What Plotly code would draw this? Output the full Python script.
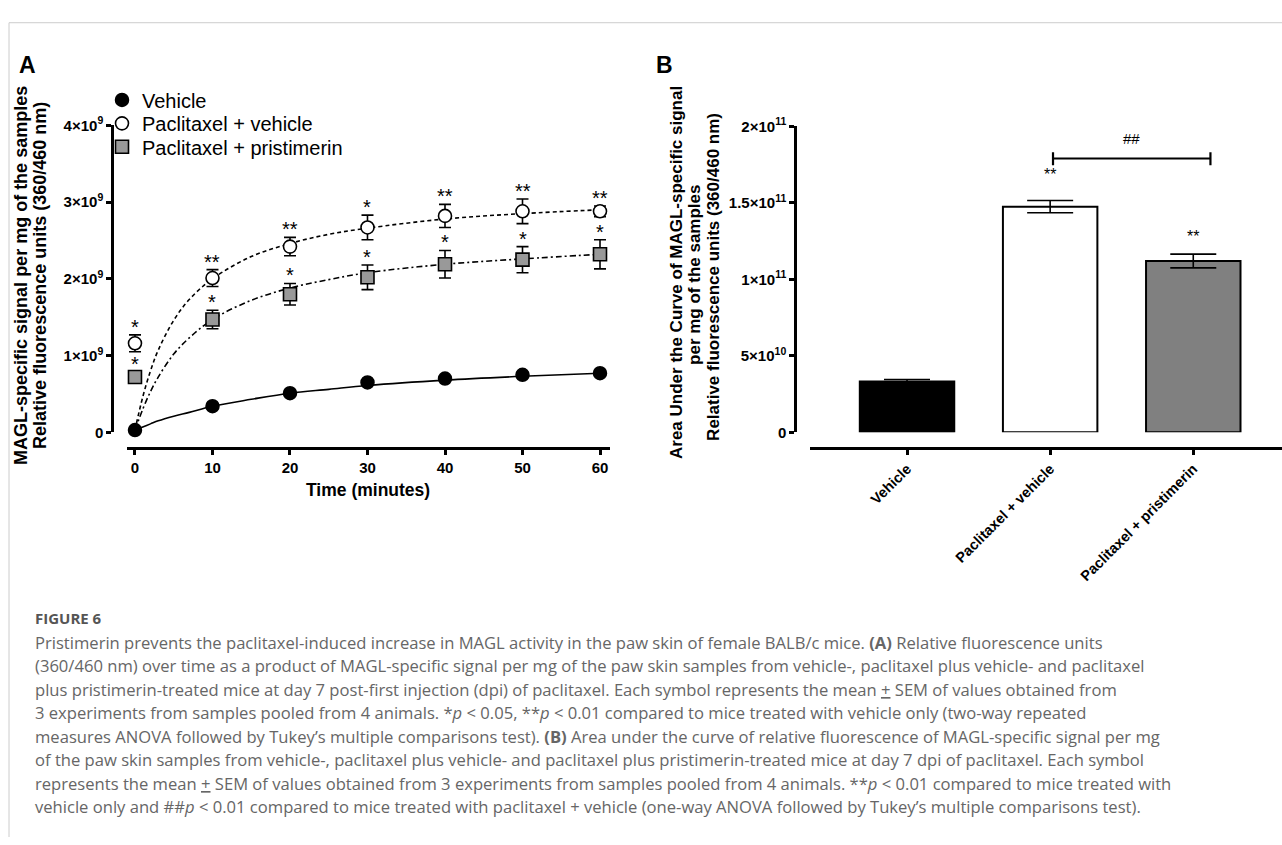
import plotly.graph_objects as go

W, H = 1282, 845

# ---------------- Panel A data ----------------
time_min = [0, 10, 20, 30, 40, 50, 60]
vehicle_mean = [0.03e9, 0.34e9, 0.51e9, 0.65e9, 0.70e9, 0.75e9, 0.77e9]
vehicle_sem = [0.02e9, 0.03e9, 0.03e9, 0.03e9, 0.03e9, 0.03e9, 0.03e9]
pv_mean = [1.16e9, 2.01e9, 2.42e9, 2.67e9, 2.82e9, 2.88e9, 2.88e9]
pv_sem = [0.11e9, 0.11e9, 0.12e9, 0.16e9, 0.15e9, 0.16e9, 0.07e9]
pp_mean = [0.72e9, 1.47e9, 1.80e9, 2.02e9, 2.19e9, 2.25e9, 2.32e9]
pp_sem = [0.07e9, 0.12e9, 0.14e9, 0.16e9, 0.18e9, 0.17e9, 0.19e9]
pv_stars = ["*", "**", "**", "*", "**", "**", "**"]
pp_stars = ["*", "*", "*", "*", "*", "*", "*"]

# fitted curves
fit_t = [0, 1, 2, 3, 5, 7, 10, 15, 20, 25, 30, 40, 50, 60]
vehicle_fit = [0.03e9, 0.07e9, 0.11e9, 0.15e9, 0.21e9, 0.26e9, 0.34e9, 0.43e9, 0.51e9, 0.56e9, 0.61e9, 0.68e9, 0.73e9, 0.77e9]
pv_fit = [0.03e9, 0.46e9, 0.80e9, 1.07e9, 1.46e9, 1.73e9, 2.00e9, 2.29e9, 2.46e9, 2.58e9, 2.66e9, 2.78e9, 2.85e9, 2.90e9]
pp_fit = [0.03e9, 0.30e9, 0.53e9, 0.72e9, 1.02e9, 1.23e9, 1.47e9, 1.72e9, 1.88e9, 1.99e9, 2.08e9, 2.19e9, 2.26e9, 2.32e9]

a_xticks = [0, 10, 20, 30, 40, 50, 60]
a_yticks = [0, 1e9, 2e9, 3e9, 4e9]
a_yticklabels = ["0", "1×10<sup>9</sup>", "2×10<sup>9</sup>", "3×10<sup>9</sup>", "4×10<sup>9</sup>"]

# ---------------- Panel B data ----------------
groups = ["Vehicle", "Paclitaxel + vehicle", "Paclitaxel + pristimerin"]
auc_mean = [3.32e10, 1.475e11, 1.12e11]
auc_sem = [0.13e10, 0.04e11, 0.045e11]
auc_stars = ["", "**", "**"]
bar_colors = ["#000000", "#ffffff", "#808080"]
b_yticks = [0, 5e10, 1e11, 1.5e11, 2e11]
b_yticklabels = ["0", "5×10<sup>10</sup>", "1×10<sup>11</sup>", "1.5×10<sup>11</sup>", "2×10<sup>11</sup>"]
bracket_y = 1.79e11

caption_lines = [
    "Pristimerin prevents the paclitaxel-induced increase in MAGL activity in the paw skin of female BALB/c mice. <b>(A)</b> Relative fluorescence units",
    "(360/460 nm) over time as a product of MAGL-specific signal per mg of the paw skin samples from vehicle-, paclitaxel plus vehicle- and paclitaxel",
    "plus pristimerin-treated mice at day 7 post-first injection (dpi) of paclitaxel. Each symbol represents the mean <u>+</u> SEM of values obtained from",
    "3 experiments from samples pooled from 4 animals. *<i>p</i> &lt; 0.05, **<i>p</i> &lt; 0.01 compared to mice treated with vehicle only (two-way repeated",
    "measures ANOVA followed by Tukey’s multiple comparisons test). <b>(B)</b> Area under the curve of relative fluorescence of MAGL-specific signal per mg",
    "of the paw skin samples from vehicle-, paclitaxel plus vehicle- and paclitaxel plus pristimerin-treated mice at day 7 dpi of paclitaxel. Each symbol",
    "represents the mean <u>+</u> SEM of values obtained from 3 experiments from samples pooled from 4 animals. **<i>p</i> &lt; 0.01 compared to mice treated with",
    "vehicle only and ##<i>p</i> &lt; 0.01 compared to mice treated with paclitaxel + vehicle (one-way ANOVA followed by Tukey’s multiple comparisons test).",
]


def px(x):
    return x / W


def py(y):
    return 1 - y / H


AX_FONT = "Liberation Sans, Arial, sans-serif"
fig = go.Figure()

# ---- Panel A curves ----
fig.add_trace(go.Scatter(x=fit_t, y=vehicle_fit, mode="lines", line=dict(color="black", width=1.6, shape="spline"),
                         showlegend=False, hoverinfo="skip", xaxis="x", yaxis="y"))
fig.add_trace(go.Scatter(x=fit_t, y=pv_fit, mode="lines", line=dict(color="black", width=1.6, dash="4px,3px", shape="spline"),
                         showlegend=False, hoverinfo="skip", xaxis="x", yaxis="y"))
fig.add_trace(go.Scatter(x=fit_t, y=pp_fit, mode="lines", line=dict(color="black", width=1.6, dash="6px,3px,2px,3px", shape="spline"),
                         showlegend=False, hoverinfo="skip", xaxis="x", yaxis="y"))

err_style = dict(type="data", color="black", thickness=1.6, width=6)
fig.add_trace(go.Scatter(x=time_min, y=vehicle_mean, mode="markers", name="Vehicle", legend="legend",
                         marker=dict(symbol="circle", size=13, color="black", line=dict(color="black", width=1.5)),
                         error_y=dict(array=vehicle_sem, **err_style), cliponaxis=False, xaxis="x", yaxis="y"))
fig.add_trace(go.Scatter(x=time_min, y=pv_mean, mode="markers", name="Paclitaxel + vehicle", legend="legend2",
                         marker=dict(symbol="circle", size=13, color="white", line=dict(color="black", width=1.6)),
                         error_y=dict(array=pv_sem, **err_style), cliponaxis=False, xaxis="x", yaxis="y"))
fig.add_trace(go.Scatter(x=time_min, y=pp_mean, mode="markers", name="Paclitaxel + pristimerin", legend="legend3",
                         marker=dict(symbol="square", size=13, color="#999999", line=dict(color="black", width=1.6)),
                         error_y=dict(array=pp_sem, **err_style), cliponaxis=False, xaxis="x", yaxis="y"))

annotations = []
for t, m, s, st in zip(time_min, pv_mean, pv_sem, pv_stars):
    annotations.append(dict(x=t, y=m + s, xref="x", yref="y", text=st, showarrow=False, xanchor="center",
                            yanchor="bottom", yshift=-5, font=dict(family=AX_FONT, size=20, color="black")))
for t, m, s, st in zip(time_min, pp_mean, pp_sem, pp_stars):
    annotations.append(dict(x=t, y=m + s, xref="x", yref="y", text=st, showarrow=False, xanchor="center",
                            yanchor="bottom", yshift=-5, font=dict(family=AX_FONT, size=20, color="black")))

# ---- Panel B bars ----
fig.add_trace(go.Bar(x=groups, y=auc_mean, width=0.66, marker=dict(color=bar_colors, line=dict(color="black", width=2)),
                     error_y=dict(type="data", array=auc_sem, color="black", thickness=1.6, width=23),
                     showlegend=False, xaxis="x2", yaxis="y2"))
star_shift = [0, 16, 7]
for g, m, s, st, sh in zip(groups, auc_mean, auc_sem, auc_stars, star_shift):
    if st:
        annotations.append(dict(x=g, y=m + s, xref="x2", yref="y2", text=st, showarrow=False, xanchor="center",
                                yanchor="bottom", yshift=sh, font=dict(family=AX_FONT, size=16, color="black")))

# significance bracket (between group 1 and group 2)
shapes = [
    dict(type="line", xref="x2", yref="y2", x0=1.02, x1=2.12, y0=bracket_y, y1=bracket_y, line=dict(color="black", width=2.2)),
    dict(type="line", xref="x2", yref="y2", x0=1.02, x1=1.02, y0=bracket_y - 0.045e11, y1=bracket_y + 0.04e11, line=dict(color="black", width=2.2)),
    dict(type="line", xref="x2", yref="y2", x0=2.12, x1=2.12, y0=bracket_y - 0.045e11, y1=bracket_y + 0.04e11, line=dict(color="black", width=2.2)),
    # page frame
    dict(type="line", xref="paper", yref="paper", x0=px(9), x1=1.0, y0=py(12), y1=py(12), line=dict(color="#cccccc", width=1)),
    dict(type="line", xref="paper", yref="paper", x0=px(9), x1=px(9), y0=py(12), y1=0, line=dict(color="#cccccc", width=1)),
]
annotations.append(dict(x=1.57, y=bracket_y, xref="x2", yref="y2", text="##", showarrow=False, xanchor="center",
                        yanchor="bottom", yshift=9, font=dict(family=AX_FONT, size=15, color="black")))


def label(x, y, text, size, angle=0, xanchor="center", family=AX_FONT, color="black"):
    return dict(x=px(x), y=py(y), xref="paper", yref="paper", text=text, textangle=angle, showarrow=False,
                xanchor=xanchor, yanchor="middle", font=dict(family=family, size=size, color=color))


annotations += [
    label(27, 55, "<b>A</b>", 23),
    label(664, 55, "<b>B</b>", 23),
    label(21, 271, "<b>MAGL-specific signal per mg of the samples</b>", 18, -90),
    label(40, 271, "<b>Relative fluorescence units (360/460 nm)</b>", 18, -90),
    label(368, 490, "<b>Time (minutes)</b>", 17.5),
    label(677, 268, "<b>Area Under the Curve of MAGL-specific signal</b>", 17, -90),
    label(695, 270, "<b>per mg of the samples</b>", 17, -90),
    label(714, 272, "<b>Relative fluorescence units (360/460 nm)</b>", 17, -90),
    label(33, 621, "<b>FIGURE 6</b>", 15, xanchor="left", family="Open Sans, sans-serif", color="#555555"),
]
for i, line in enumerate(caption_lines):
    annotations.append(label(33, 646 + 24 * i, line, 16.6, xanchor="left", family="Open Sans, sans-serif",
                             color="#666666"))


def legend_box(top):
    return dict(x=px(102), y=py(top), xanchor="left", yanchor="top", bgcolor="rgba(0,0,0,0)",
                font=dict(family=AX_FONT, size=20, color="black"), itemwidth=30)


tick_font = dict(family=AX_FONT, size=15, color="black")
fig.update_layout(
    width=W, height=H, margin=dict(l=0, r=0, t=0, b=0),
    paper_bgcolor="white", plot_bgcolor="white",
    font=dict(family=AX_FONT, color="black"),
    showlegend=True,
    legend=legend_box(71),
    legend2=legend_box(95),
    legend3=legend_box(119),
    xaxis=dict(domain=[px(127), px(610)], range=[-1.03, 61.29], anchor="free", position=py(447),
               showline=True, linecolor="black", linewidth=2.5, ticks="outside", ticklen=5, tickwidth=2.5,
               tickcolor="black", tickvals=a_xticks, ticktext=[f"<b>{t}</b>" for t in a_xticks],
               tickfont=tick_font, showgrid=False, zeroline=False),
    yaxis=dict(domain=[py(431), py(117)], range=[0, 4e9], anchor="free", position=px(112),
               showline=True, linecolor="black", linewidth=2.5, ticks="outside", ticklen=5, tickwidth=2.5,
               tickcolor="black", tickvals=a_yticks, ticktext=[f"<b>{t}</b>" for t in a_yticklabels],
               tickfont=tick_font, showgrid=False, zeroline=False),
    xaxis2=dict(domain=[px(810), px(1282)], range=[-0.678, 2.62], anchor="free", position=py(447),
                showline=True, linecolor="black", linewidth=2.5, ticks="outside", ticklen=5, tickwidth=2.5,
                tickcolor="black", tickangle=-45, tickvals=groups, ticktext=[f"<b>{g}</b>" for g in groups],
                tickfont=dict(family=AX_FONT, size=14.5, color="black"), showgrid=False, zeroline=False),
    yaxis2=dict(domain=[py(431), py(118)], range=[0, 2e11], anchor="free", position=px(795),
                showline=True, linecolor="black", linewidth=2.5, ticks="outside", ticklen=5, tickwidth=2.5,
                tickcolor="black", tickvals=b_yticks, ticktext=[f"<b>{t}</b>" for t in b_yticklabels],
                tickfont=tick_font, showgrid=False, zeroline=False),
    annotations=annotations,
    shapes=shapes,
    bargap=0.3,
)

fig.write_html("out.html", config={"displayModeBar": False},
               post_script="document.body.style.margin='0';")
